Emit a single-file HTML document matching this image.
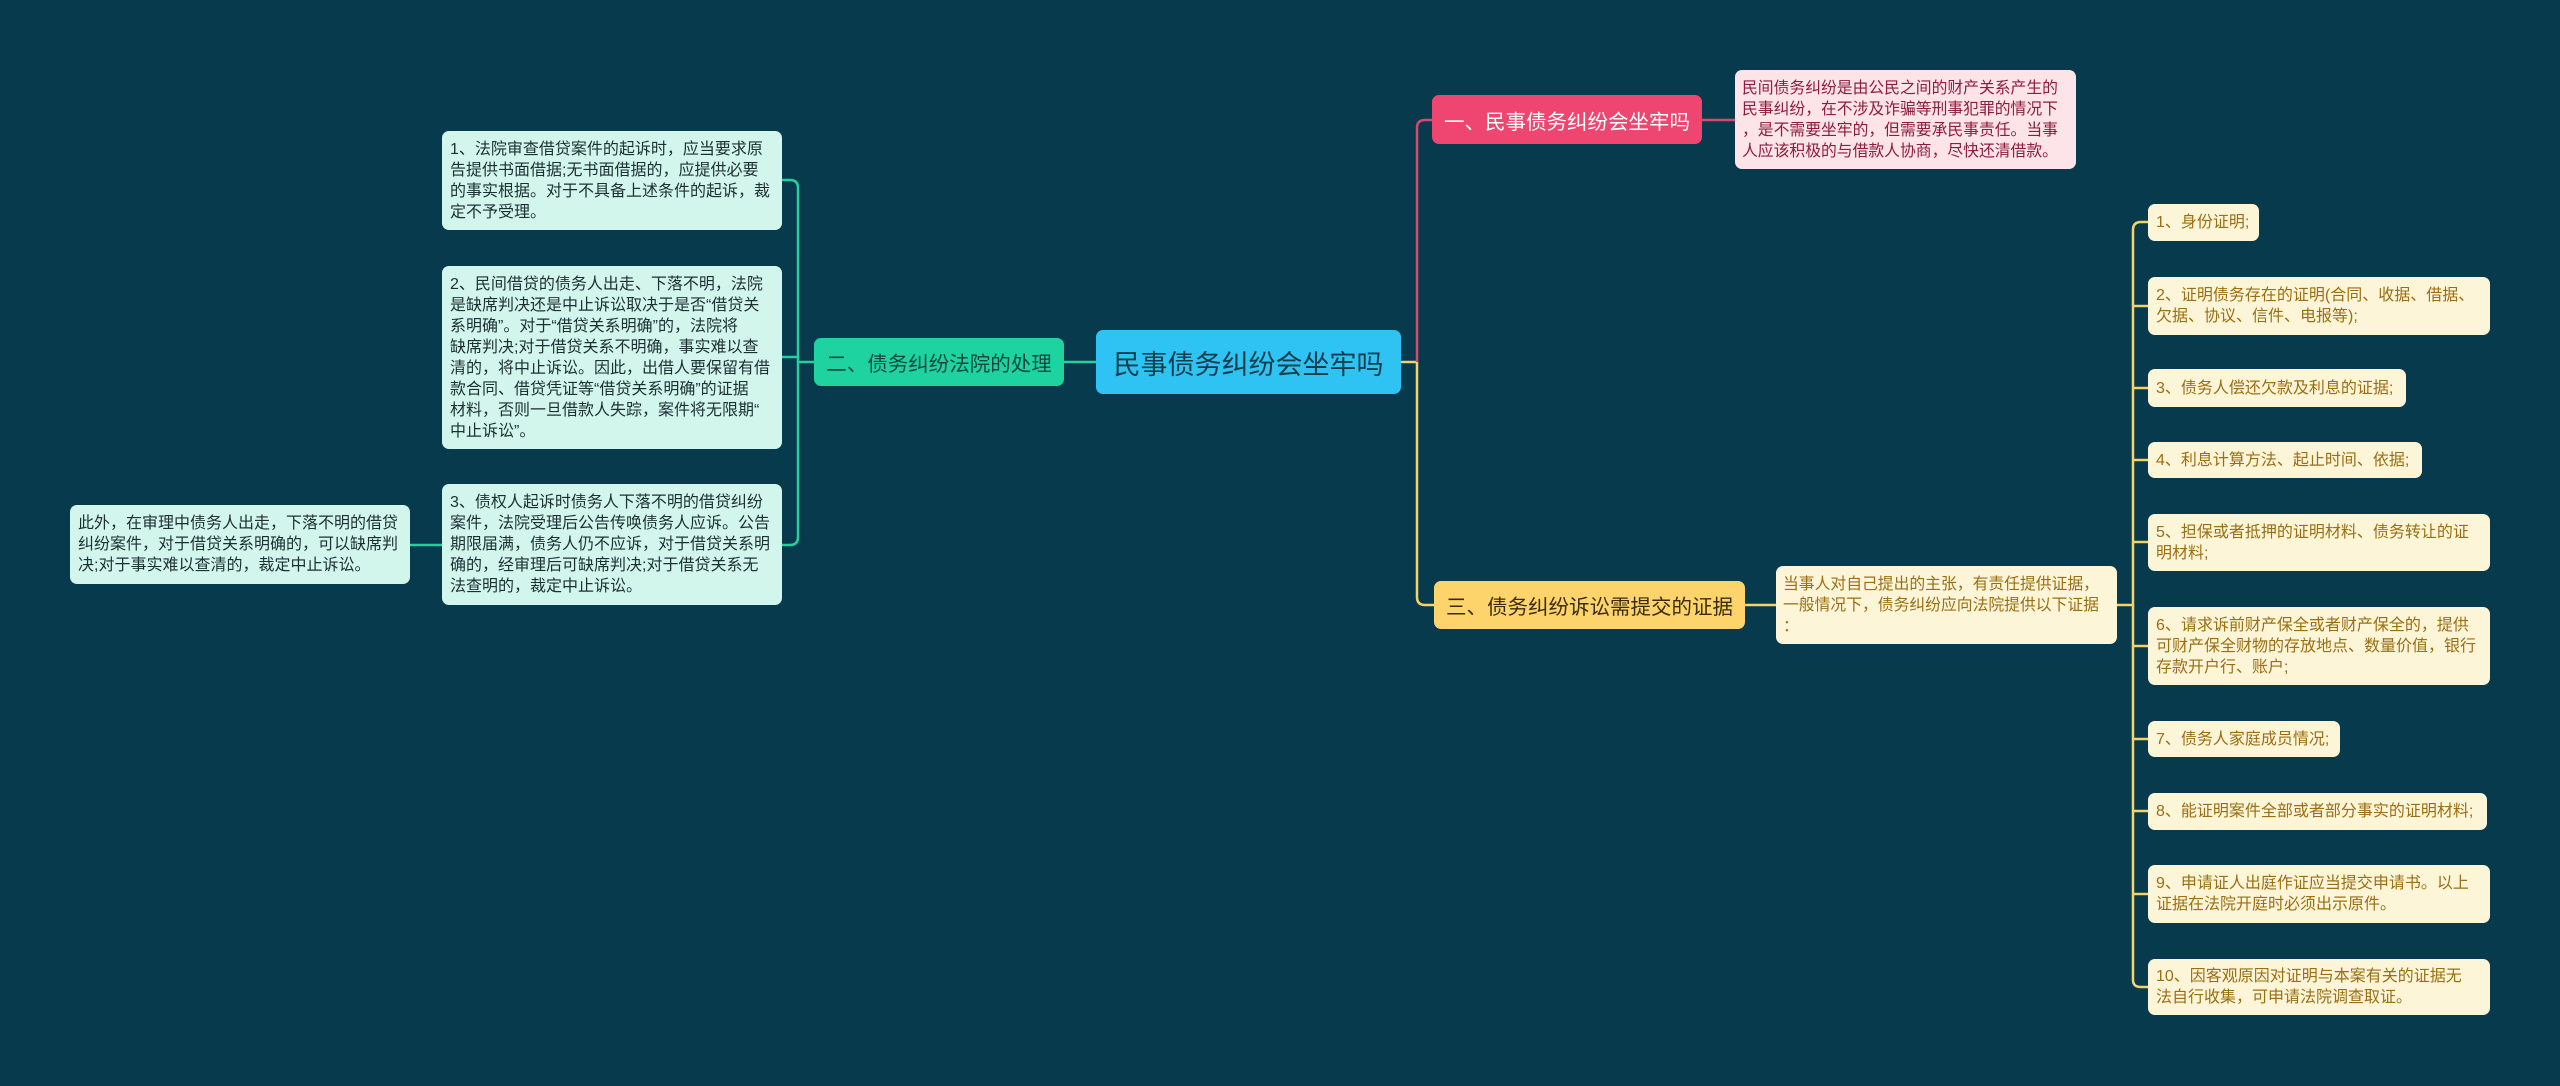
<!DOCTYPE html>
<html><head><meta charset="utf-8"><style>
body{margin:0;width:2560px;height:1086px;background:#063a4c;overflow:hidden;position:relative;font-family:"Liberation Sans","Noto Sans CJK SC",sans-serif}
.b{position:absolute;box-sizing:border-box;border-radius:7px;font-size:16px;line-height:21px;padding:6px 8px;white-space:nowrap;display:flex;flex-direction:column;justify-content:center}
.g{background:#d2f6ec;color:#1c2f33}
.y{background:#fdf5d8;color:#9a6e12}
.n{position:absolute;box-sizing:border-box;border-radius:7px;display:flex;align-items:center;justify-content:center;font-size:20.5px;white-space:nowrap}
svg{position:absolute;left:0;top:0}
</style></head><body>
<svg width="2560" height="1086" fill="none" stroke-width="2.5">
<path d="M1401 362 H1417" stroke="#f3d36a"/>
<path d="M1417 362 V128 Q1417 120 1425 120 H1432" stroke="#d8486e"/>
<path d="M1417 362 V597 Q1417 605 1425 605 H1434" stroke="#f3d36a"/>
<path d="M1702 120 H1735" stroke="#d8486e"/>
<path d="M1745 605 H1776" stroke="#f3d36a"/>
<path d="M2117 605 H2133" stroke="#f3d36a"/>
<g stroke="#f3d36a">
<path d="M2133 605 V230 Q2133 222 2141 222 H2148"/>
<path d="M2133 605 V980 Q2133 987 2141 987 H2148"/>
<path d="M2133 306 H2148"/><path d="M2133 388 H2148"/><path d="M2133 460 H2148"/>
<path d="M2133 542 H2148"/><path d="M2133 646 H2148"/><path d="M2133 739 H2148"/>
<path d="M2133 811 H2148"/><path d="M2133 894 H2148"/>
</g>
<g stroke="#27cfa0">
<path d="M1096 362 H1064"/>
<path d="M814 362 H798"/>
<path d="M798 362 V188 Q798 180 790 180 H782"/>
<path d="M798 362 V537 Q798 545 790 545 H782"/>
<path d="M798 357 H782"/>
<path d="M442 545 H410"/>
</g>
</svg>

<div class="n" style="left:1096px;top:330px;width:305px;height:64px;background:#2ec3f2;color:#123d4c;font-size:27px">民事债务纠纷会坐牢吗</div>
<div class="n" style="left:1432px;top:95px;width:270px;height:49px;background:#ee4670;color:#fff">一、民事债务纠纷会坐牢吗</div>
<div class="n" style="left:1434px;top:581px;width:311px;height:48px;background:#fdd36c;color:#3a2c0a">三、债务纠纷诉讼需提交的证据</div>
<div class="n" style="left:814px;top:338px;width:250px;height:48px;background:#1ed39f;color:#11473e">二、债务纠纷法院的处理</div>

<div class="b" style="left:1735px;top:70px;width:341px;height:99px;background:#fde4e9;color:#8e1c3c;padding:5px 7px;font-size:15.8px"><div>民间债务纠纷是由公民之间的财产关系产生的<br>民事纠纷，在不涉及诈骗等刑事犯罪的情况下<br>，是不需要坐牢的，但需要承民事责任。当事<br>人应该积极的与借款人协商，尽快还清借款。</div></div>
<div class="b y" style="left:1776px;top:566px;width:341px;height:78px;padding:5px 7px;font-size:15.8px"><div>当事人对自己提出的主张，有责任提供证据，<br>一般情况下，债务纠纷应向法院提供以下证据<br>：</div></div>

<div class="b y" style="left:2148px;top:204px;width:111px;height:37px"><div>1、身份证明;</div></div>
<div class="b y" style="left:2148px;top:277px;width:342px;height:58px"><div>2、证明债务存在的证明(合同、收据、借据、<br>欠据、协议、信件、电报等);</div></div>
<div class="b y" style="left:2148px;top:369px;width:258px;height:38px"><div>3、债务人偿还欠款及利息的证据;</div></div>
<div class="b y" style="left:2148px;top:442px;width:274px;height:36px"><div>4、利息计算方法、起止时间、依据;</div></div>
<div class="b y" style="left:2148px;top:514px;width:342px;height:57px"><div>5、担保或者抵押的证明材料、债务转让的证<br>明材料;</div></div>
<div class="b y" style="left:2148px;top:607px;width:342px;height:78px"><div>6、请求诉前财产保全或者财产保全的，提供<br>可财产保全财物的存放地点、数量价值，银行<br>存款开户行、账户;</div></div>
<div class="b y" style="left:2148px;top:721px;width:192px;height:36px"><div>7、债务人家庭成员情况;</div></div>
<div class="b y" style="left:2148px;top:793px;width:339px;height:37px"><div>8、能证明案件全部或者部分事实的证明材料;</div></div>
<div class="b y" style="left:2148px;top:865px;width:342px;height:58px"><div>9、申请证人出庭作证应当提交申请书。以上<br>证据在法院开庭时必须出示原件。</div></div>
<div class="b y" style="left:2148px;top:959px;width:342px;height:56px"><div>10、因客观原因对证明与本案有关的证据无<br>法自行收集，可申请法院调查取证。</div></div>

<div class="b g" style="left:442px;top:131px;width:340px;height:99px"><div>1、法院审查借贷案件的起诉时，应当要求原<br>告提供书面借据;无书面借据的，应提供必要<br>的事实根据。对于不具备上述条件的起诉，裁<br>定不予受理。</div></div>
<div class="b g" style="left:442px;top:266px;width:340px;height:183px"><div>2、民间借贷的债务人出走、下落不明，法院<br>是缺席判决还是中止诉讼取决于是否“借贷关<br>系明确”。对于“借贷关系明确”的，法院将<br>缺席判决;对于借贷关系不明确，事实难以查<br>清的，将中止诉讼。因此，出借人要保留有借<br>款合同、借贷凭证等“借贷关系明确”的证据<br>材料，否则一旦借款人失踪，案件将无限期“<br>中止诉讼”。</div></div>
<div class="b g" style="left:442px;top:484px;width:340px;height:121px"><div>3、债权人起诉时债务人下落不明的借贷纠纷<br>案件，法院受理后公告传唤债务人应诉。公告<br>期限届满，债务人仍不应诉，对于借贷关系明<br>确的，经审理后可缺席判决;对于借贷关系无<br>法查明的，裁定中止诉讼。</div></div>
<div class="b g" style="left:70px;top:505px;width:340px;height:79px"><div>此外，在审理中债务人出走，下落不明的借贷<br>纠纷案件，对于借贷关系明确的，可以缺席判<br>决;对于事实难以查清的，裁定中止诉讼。</div></div>
</body></html>
